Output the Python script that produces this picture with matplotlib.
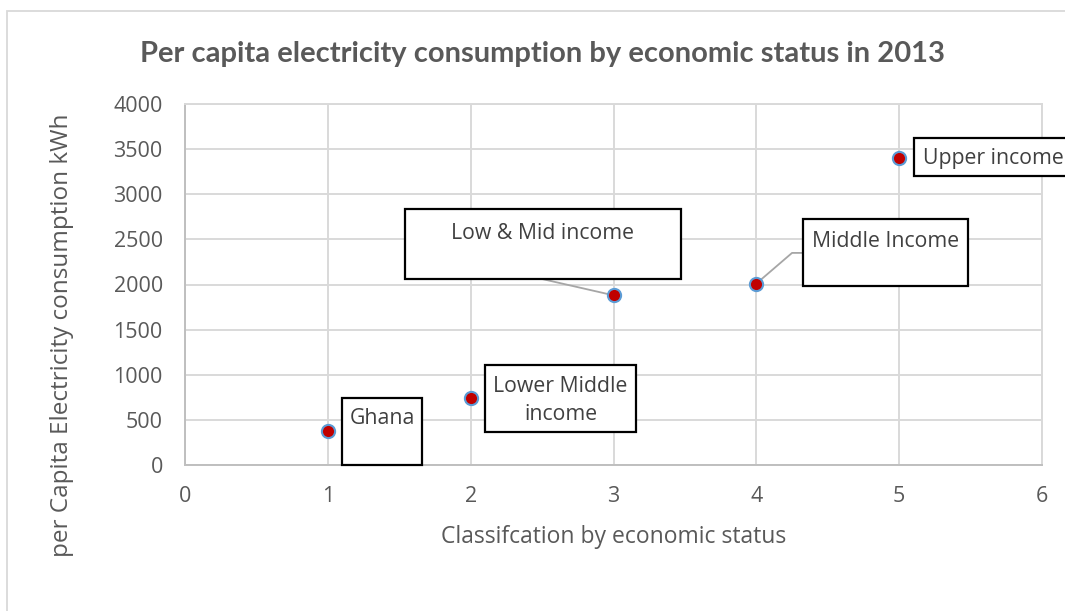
import matplotlib
matplotlib.use("Agg")
import matplotlib.pyplot as plt
from matplotlib.patches import Rectangle

# Data: economic status class vs per capita electricity use (kWh)
status_class = [1, 2, 3, 4, 5]
consumption_kwh = [380, 740, 1880, 2010, 3400]
group_names = ["Ghana", "Lower Middle\nincome", "Low & Mid income", "Middle Income", "Upper income"]

x_ticks = [0, 1, 2, 3, 4, 5, 6]
y_ticks = [0, 500, 1000, 1500, 2000, 2500, 3000, 3500, 4000]

plt.rcParams['font.family'] = ['Open Sans', 'DejaVu Sans']
TXT = "#595959"
GRID = "#D9D9D9"

W, H = 1065, 611
fig = plt.figure(figsize=(W / 100, H / 100), dpi=100)

# outer chart frame
fig.patches.append(Rectangle((7 / W, -0.1), 1.2, (H - 11) / H + 0.1,
                             transform=fig.transFigure, fill=False,
                             edgecolor=GRID, linewidth=1.3))

ax = fig.add_axes([185 / W, 1 - 465 / H, (1042 - 185) / W, (465 - 104) / H])
ax.set_xlim(0, 6)
ax.set_ylim(0, 4000)
ax.set_xticks(x_ticks)
ax.set_yticks(y_ticks)
ax.grid(True, color=GRID, linewidth=1.4)
ax.set_axisbelow(True)
for s in ax.spines.values():
    s.set_color(GRID)
    s.set_linewidth(1.4)
ax.spines['left'].set_color("#BFBFBF")
ax.spines['bottom'].set_color("#BFBFBF")
ax.tick_params(length=0, labelsize=15.5, labelcolor=TXT)
ax.tick_params(axis="y", pad=16)
ax.tick_params(axis="x", pad=15)

ax.plot(status_class, consumption_kwh, linestyle="none", marker="o",
        markersize=9.5, markerfacecolor="#C00000", markeredgecolor="#5B9BD5",
        markeredgewidth=1.5, zorder=5)

ax.set_xlabel("Classifcation by economic status", fontsize=16.5, color=TXT, labelpad=13)
ax.set_ylabel("per Capita Electricity consumption kWh", fontsize=17.5, color=TXT)
ax.yaxis.label.set_va("center")
ax.yaxis.set_label_coords((62 - 185) / (1042 - 185), (465 - 335) / (465 - 104))
fig.text(542 / W, 1 - 54 / H, "Per capita electricity consumption by economic status in 2013",
         ha="center", va="center", fontsize=21, fontweight="bold", color=TXT,
         family=["Lato", "DejaVu Sans"])

# label boxes (x0, x1, y0, y1) in data units, text anchor and alignment
boxes = [
    (1.10, 1.66, 0, 740),
    (2.10, 3.16, 366, 1108),
    (1.54, 3.47, 2061, 2837),
    (4.33, 5.48, 1983, 2726),
    (5.105, 6.20, 3202, 3623),
]
text_pos = [
    (1.38, 510, "center"),
    (2.63, 715, "center"),
    (2.50, 2570, "center"),
    (4.905, 2480, "center"),
    (5.17, 3400, "left"),
]
for (x0, x1, y0, y1), (tx, ty, ha), name in zip(boxes, text_pos, group_names):
    ax.add_patch(Rectangle((x0, y0), x1 - x0, y1 - y0, fill=True, facecolor="white",
                           edgecolor="black", linewidth=1.6, zorder=6, clip_on=False))
    ax.text(tx, ty, name, ha=ha, va="center", fontsize=15.3, color="#404040",
            zorder=7, linespacing=1.45, clip_on=False)

# leader lines from points to boxes
ax.plot([status_class[2], 2.50], [consumption_kwh[2], 2061], color="#A6A6A6", lw=1.3, zorder=4)
ax.plot([status_class[3], 4.25, 4.33], [consumption_kwh[3], 2350, 2350],
        color="#A6A6A6", lw=1.3, zorder=4)

fig.savefig("out.png", dpi=100)
